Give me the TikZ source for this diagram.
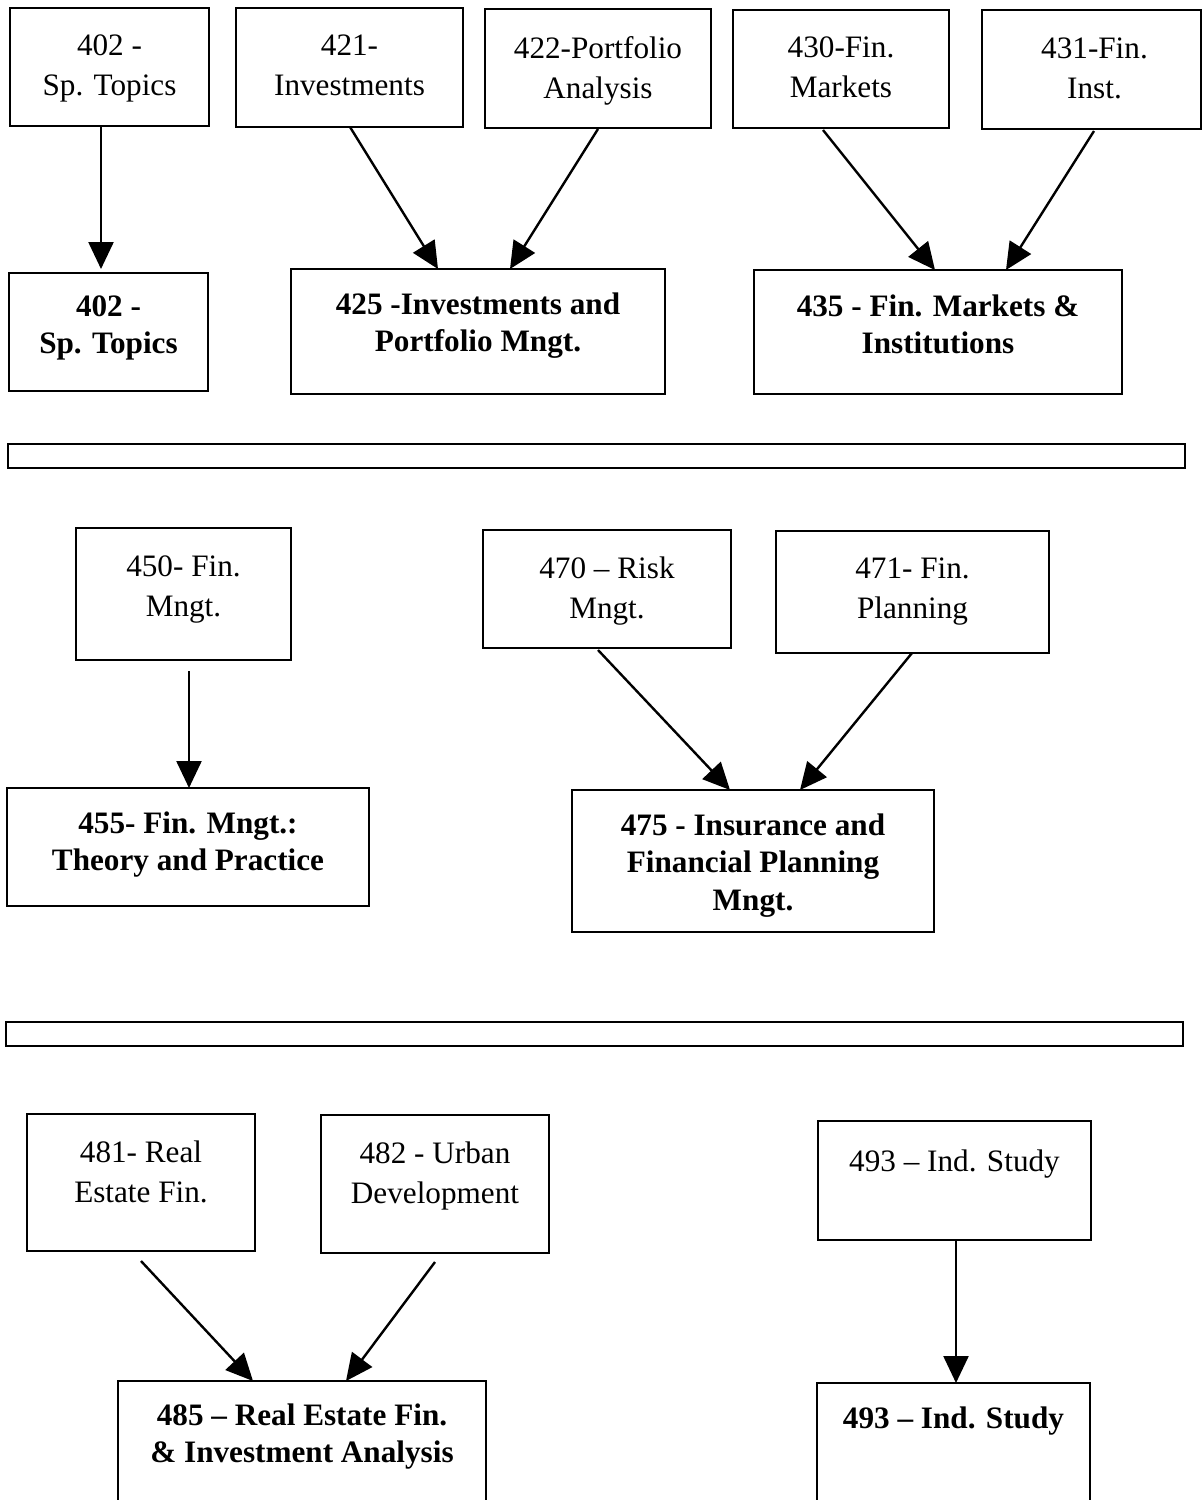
\documentclass[tikz,border=0pt]{standalone}
\usepackage{fontspec}
\setmainfont{Liberation Serif}
\usetikzlibrary{arrows.meta,calc}
\tikzset{
  boxst/.style={draw, line width=1.1pt, inner sep=0pt, outer sep=0pt, rectangle},
  regtxt/.style={font=\fontsize{15.6}{20}\selectfont, align=center, inner sep=0pt, anchor=north},
  boldtxt/.style={font=\fontsize{15.6}{18.75}\selectfont\bfseries, align=center, inner sep=0pt, anchor=north},
  arr/.style={line width=1.2pt, -{Triangle[width=12.5pt,length=13.5pt]}},
}
\newcommand\mkbox[5]{\node[boxst, minimum width={(#4-#2)*0.5pt}, minimum height={(#5-#3)*0.5pt}] (#1) at ({(#2+#4)/2},{(#3+#5)/2}) {};}
\newcommand\mktext[4]{\node[#2] (#1t) at ([yshift={-#3*0.5pt}]#1.north) {#4};}
\begin{document}
\begin{tikzpicture}[x=0.5pt,y=-0.5pt]
\useasboundingbox (0,0) rectangle (1202,1500);
\clip (0,0) rectangle (1202,1500);
\fill[white] (0,0) rectangle (1202,1500);
% row 1
\mkbox{t402}{10}{8}{209}{126}
\mkbox{t421}{236}{8}{463}{127}
\mkbox{t422}{485}{9}{711}{128}
\mkbox{t430}{733}{10}{949}{128}
\mkbox{t431}{982}{10}{1201}{129}
\mkbox{b402}{9}{273}{208}{391}
\mkbox{b425}{291}{269}{665}{394}
\mkbox{b435}{754}{270}{1122}{394}
\mktext{t402}{regtxt}{26}{402 -\\Sp. Topics}
\mktext{t421}{regtxt}{26}{421-\\Investments}
\mktext{t422}{regtxt}{27}{422-Portfolio\\Analysis}
\mktext{t430}{regtxt}{26}{430-Fin.\\Markets}
\node[regtxt] (t431t) at ([xshift=1.5pt,yshift=-13.5pt]t431.north) {431-Fin.\\Inst.};
\mktext{b402}{boldtxt}{22}{402 -\\Sp. Topics}
\mktext{b425}{boldtxt}{23}{425 -Investments and\\Portfolio Mngt.}
\mktext{b435}{boldtxt}{24}{435 - Fin. Markets \&\\Institutions}
\draw[arr] ($(t402.south west)+(91,0)$) -- ($(b402.north west)+(92,-4)$);
\draw[arr] ($(t421.south west)+(114,0)$) -- ($(b425.north west)+(147,0)$);
\draw[arr] ($(t422.south west)+(113,1)$) -- ($(b425.north west)+(219,0)$);
\draw[arr] ($(t430.south west)+(90,2)$) -- ($(b435.north west)+(181,0)$);
\draw[arr] ($(t431.south west)+(112,2)$) -- ($(b435.north west)+(252,0)$);
% bar 1
\mkbox{bar1}{8}{444}{1185}{468}
% row 2
\mkbox{t450}{76}{528}{291}{660}
\mkbox{t470}{483}{530}{731}{648}
\mkbox{t471}{776}{531}{1049}{653}
\mkbox{b455}{7}{788}{369}{906}
\mkbox{b475}{572}{790}{934}{932}
\mktext{t450}{regtxt}{27}{450- Fin.\\Mngt.}
\mktext{t470}{regtxt}{26}{470 – Risk\\Mngt.}
\mktext{t471}{regtxt}{26}{471- Fin.\\Planning}
\mktext{b455}{boldtxt}{23}{455- Fin. Mngt.:\\Theory and Practice}
\mktext{b475}{boldtxt}{23}{475 - Insurance and\\Financial Planning\\Mngt.}
\draw[arr] ($(t450.south west)+(113,11)$) -- ($(b455.north west)+(182,0)$);
\draw[arr] ($(t470.south west)+(115,2)$) -- ($(b475.north west)+(158,0)$);
\draw[arr] ($(t471.south west)+(136,0)$) -- ($(b475.north west)+(228,0)$);
% bar 2
\mkbox{bar2}{6}{1022}{1183}{1046}
% row 3
\mkbox{t481}{27}{1114}{255}{1251}
\mkbox{t482}{321}{1115}{549}{1253}
\mkbox{t493}{818}{1121}{1091}{1240}
\mkbox{b485}{118}{1381}{486}{1512}
\mkbox{b493}{817}{1383}{1090}{1512}
\mktext{t481}{regtxt}{26}{481- Real\\Estate Fin.}
\mktext{t482}{regtxt}{26}{482 - Urban\\Development}
\mktext{t493}{regtxt}{28}{493 – Ind. Study}
\mktext{b485}{boldtxt}{22}{485 – Real Estate Fin.\\\& Investment Analysis}
\mktext{b493}{boldtxt}{23}{493 – Ind. Study}
\draw[arr] ($(t481.south west)+(114,10)$) -- ($(b485.north west)+(135,0)$);
\draw[arr] ($(t482.south west)+(114,9)$) -- ($(b485.north west)+(228,0)$);
\draw[arr] ($(t493.south west)+(138,0)$) -- ($(b493.north west)+(139,0)$);
\end{tikzpicture}
\end{document}
